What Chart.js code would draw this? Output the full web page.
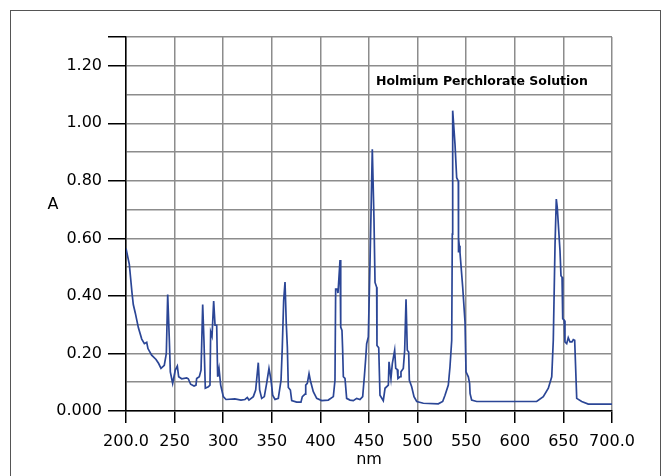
<!DOCTYPE html>
<html>
<head>
<meta charset="utf-8">
<script src="https://cdn.jsdelivr.net/npm/chart.js@4"></script>
<style>
  body { margin: 0; background: #fff; }
  canvas { display: block; }
</style>
</head>
<body>
<canvas id="spectrumChart" width="668" height="476"></canvas>
<script>
// Wavelength (nm) and absorbance
const wavelengths = [
  200, 203.4, 206.2, 207.5, 209.6, 212.7, 216.2, 218.9, 221.3, 222.6,
  226.4, 230.9, 233.6, 236, 239.4, 241.5, 242.9, 244.6, 245.6, 248,
  250.7, 252.8, 254.2, 257.3, 262.4, 264.1, 266.5, 270, 272, 272.7,
  275.4, 277.2, 278.9, 280.2, 281.6, 284.7, 286.4, 287.1, 288.5, 290.2,
  291.6, 293.3, 294.3, 295.7, 297.4, 300.1, 302.9, 312, 318.3, 322.4,
  324.8, 326.5, 331, 333.4, 336.1, 337.5, 339.6, 342.3, 344.7, 347.1,
  349.2, 350.9, 353.3, 356.7, 359.5, 360.8, 362.2, 363.6, 364.9, 366,
  367, 369.1, 370.5, 375.6, 380, 381.4, 384.2, 384.9, 386.5, 388.3,
  389.6, 392.7, 396.2, 401.3, 408.1, 413.3, 415, 415.7, 417.4, 418.1,
  420.2, 420.9, 422.2, 422.9, 423.6, 425.3, 427, 430.5, 433.9, 437.3,
  440.7, 443.5, 445.2, 446.6, 447.6, 449.3, 451, 452.4, 453.4, 455.1,
  456.2, 457.9, 458.2, 460, 461.3, 464.7, 466.5, 469.9, 470.6, 472.6,
  474, 476.4, 477.5, 479.1, 479.8, 481.9, 482.9, 485.3, 486.7, 488.1,
  489.4, 490.8, 491.5, 493.9, 496.3, 499.1, 505.9, 521.3, 525.8, 528.2,
  531.6, 533.3, 535.1, 535.7, 536.1, 538.5, 540.2, 541.9, 542.1, 542.9,
  543.6, 546.4, 548.8, 549.8, 552.2, 553.5, 554, 555.6, 560.8, 622.5,
  629.3, 634.5, 638, 639.6, 641.4, 642.7, 643.7, 646.5, 647.5, 648.6,
  649.3, 650.9, 651.6, 653.4, 655, 656.8, 658.8, 660.2, 661.6, 663.7,
  668.8, 675.6, 700
];
const absorbance = [
  0.565, 0.51, 0.41, 0.37, 0.34, 0.29, 0.25, 0.234, 0.239, 0.217,
  0.194, 0.179, 0.165, 0.148, 0.159, 0.2, 0.405, 0.246, 0.136, 0.096,
  0.142, 0.156, 0.119, 0.112, 0.115, 0.112, 0.093, 0.087, 0.09, 0.113,
  0.119, 0.142, 0.37, 0.246, 0.079, 0.084, 0.09, 0.275, 0.26, 0.382,
  0.298, 0.298, 0.119, 0.148, 0.09, 0.05, 0.04, 0.042, 0.038, 0.04,
  0.047, 0.038, 0.05, 0.073, 0.168, 0.073, 0.044, 0.05, 0.096, 0.148,
  0.107, 0.055, 0.04, 0.044, 0.107, 0.222, 0.384, 0.448, 0.303, 0.222,
  0.082, 0.073, 0.036, 0.031, 0.031, 0.05, 0.059, 0.09, 0.096, 0.13,
  0.107, 0.067, 0.044, 0.036, 0.038, 0.05, 0.107, 0.424, 0.424, 0.41,
  0.525, 0.292, 0.28, 0.211, 0.119, 0.113, 0.044, 0.038, 0.036, 0.044,
  0.04, 0.05, 0.119, 0.182, 0.234, 0.257, 0.511, 0.742, 0.91, 0.672,
  0.447, 0.43, 0.228, 0.22, 0.055, 0.036, 0.079, 0.09, 0.171, 0.113,
  0.165, 0.211, 0.148, 0.144, 0.113, 0.119, 0.136, 0.148, 0.211, 0.388,
  0.211, 0.205, 0.107, 0.084, 0.05, 0.033, 0.027, 0.025, 0.033, 0.055,
  0.09, 0.153, 0.246, 0.615, 1.044, 0.926, 0.811, 0.799, 0.551, 0.574,
  0.551, 0.43, 0.309, 0.136, 0.119, 0.096, 0.06, 0.038, 0.033, 0.033,
  0.05, 0.079, 0.119, 0.246, 0.58, 0.737, 0.707, 0.557, 0.47, 0.465,
  0.321, 0.315, 0.24, 0.234, 0.255, 0.24, 0.24, 0.248, 0.246, 0.044,
  0.033, 0.024, 0.024
];

const chartTitle = "Holmium Perchlorate Solution";
const yLabel = "A";
const xLabel = "nm";

const points = wavelengths.map((w, i) => ({ x: w, y: absorbance[i] }));
const labelFont = { family: "'DejaVu Sans', sans-serif", size: 16 };

// Frame round the page plus the unrotated "A" and the heading
const decorations = {
  id: "decorations",
  beforeDraw(chart) {
    const ctx = chart.ctx;
    ctx.save();
    ctx.strokeStyle = "#555";
    ctx.lineWidth = 1;
    ctx.strokeRect(10.5, 10.5, 650, 480);
    ctx.restore();
  },
  afterDraw(chart) {
    const ctx = chart.ctx;
    ctx.save();
    ctx.fillStyle = "#000";
    ctx.font = "16px 'DejaVu Sans', sans-serif";
    ctx.textAlign = "center";
    ctx.textBaseline = "middle";
    ctx.fillText(yLabel, 53, 205);
    ctx.font = "bold 12.5px 'DejaVu Sans', sans-serif";
    ctx.textAlign = "left";
    ctx.textBaseline = "alphabetic";
    ctx.fillText(chartTitle, 376, 85);
    ctx.restore();
  }
};

new Chart(document.getElementById("spectrumChart").getContext("2d"), {
  type: "line",
  data: {
    datasets: [{
      data: points,
      borderColor: "#2b4696",
      borderWidth: 1.7,
      pointRadius: 0,
      tension: 0,
      fill: false
    }]
  },
  options: {
    responsive: false,
    animation: false,
    events: [],
    layout: { padding: { left: 0, top: 37, right: 56, bottom: 0 } },
    plugins: {
      legend: { display: false },
      tooltip: { enabled: false }
    },
    scales: {
      x: {
        type: "linear",
        min: 200,
        max: 700,
        afterFit: (scale) => { scale.height = 65; },
        ticks: {
          stepSize: 50,
          color: "#000",
          font: labelFont,
          padding: 9,
          maxRotation: 0,
          autoSkip: false,
          callback: (v) => (v === 200 || v === 700) ? v.toFixed(1) : String(v)
        },
        grid: {
          color: "#8c8c8c",
          lineWidth: 1.5,
          tickLength: 12,
          tickColor: "#000",
          tickWidth: 1.5
        },
        border: { color: "#000", width: 1.5 },
        title: {
          display: true,
          text: xLabel,
          color: "#000",
          font: labelFont,
          padding: { top: 0, bottom: 7 }
        }
      },
      y: {
        min: 0,
        max: 1.3,
        afterFit: (scale) => { scale.width = 126; },
        ticks: {
          stepSize: 0.1,
          color: "#000",
          font: labelFont,
          padding: 6,
          autoSkip: false,
          callback: (v) => {
            const k = Math.round(v * 10);
            if (k % 2 !== 0) return "";
            return k === 0 ? "0.000" : (k / 10).toFixed(2);
          }
        },
        grid: {
          color: "#8c8c8c",
          lineWidth: 1.5,
          tickLength: 18,
          tickWidth: 1.5,
          tickColor: (ctx) => {
            const k = Math.round(ctx.tick.value * 10);
            return (k % 2 === 0 || k === 13) ? "#000" : "rgba(0,0,0,0)";
          }
        },
        border: { color: "#000", width: 1.5 }
      }
    }
  },
  plugins: [decorations]
});
</script>
</body>
</html>
